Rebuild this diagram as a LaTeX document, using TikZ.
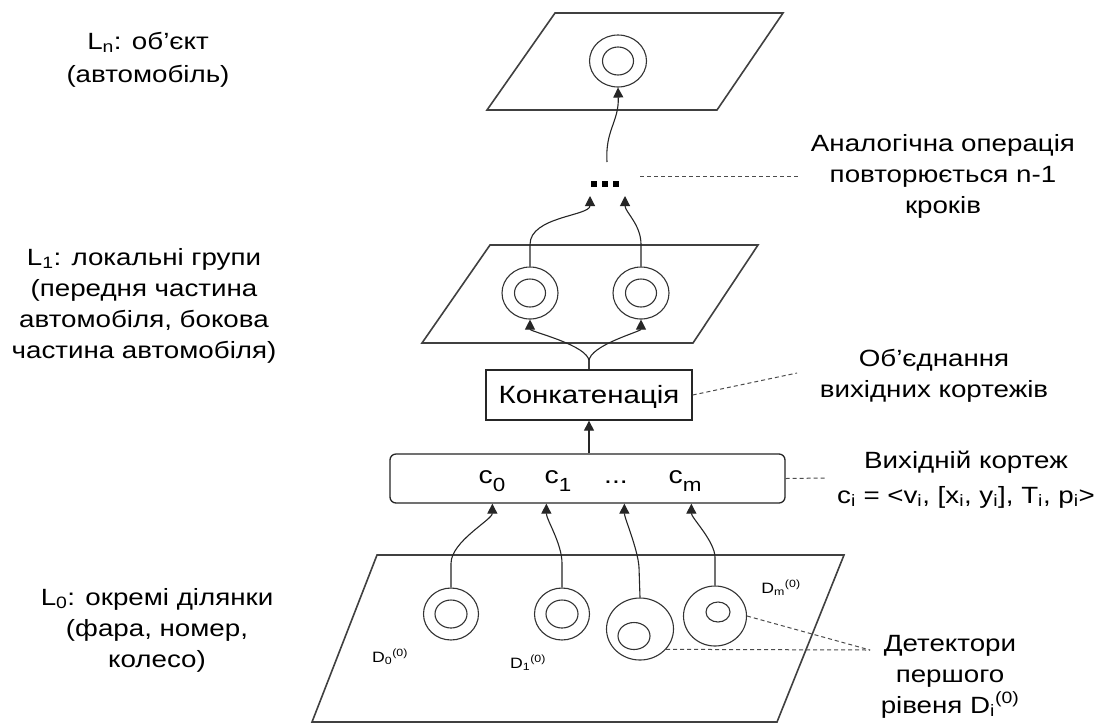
\documentclass[tikz,border=0pt]{standalone}
\usepackage{fontspec}
\setmainfont{Liberation Sans}[FakeStretch=1.18]
\usetikzlibrary{arrows.meta,shapes.geometric}
\tikzset{
  plane/.style={draw=black!75,line width=1.6pt,line join=miter},
  det/.style={ellipse,draw=black!80,line width=1.1pt,minimum width=56pt,minimum height=52pt,inner sep=0pt},
  detin/.style={ellipse,draw=black!80,line width=1.1pt,minimum width=31pt,minimum height=28pt,inner sep=0pt},
  conn/.style={draw=black!85,line width=1.1pt,-{Triangle[length=10pt,width=10pt]}},
  lead/.style={draw=black!70,line width=1pt,dash pattern=on 4pt off 3pt},
  lbl/.style={font=\fontsize{23.5}{31}\selectfont,align=center,inner sep=0pt,anchor=base},
  dlbl/.style={font=\fontsize{15}{18}\selectfont,inner sep=0pt,anchor=base},
  clbl/.style={font=\fontsize{24}{28}\selectfont,inner sep=0pt,anchor=base},
  boxn/.style={draw=black!85,line width=1.3pt,inner sep=0pt}
}
\newcommand{\csub}[1]{\raisebox{-8pt}{\fontsize{19}{19}\selectfont #1}}
\newcommand{\dsubsup}[2]{\textsubscript{#1}\textsuperscript{#2}}
\begin{document}
\begin{tikzpicture}[x=1pt,y=-1pt]
\useasboundingbox (0,0) rectangle (1107,724);
\fill[white] (0,0) rectangle (1107,724);

% planes
\draw[plane] (555,13) -- (783,13) -- (717,110) -- (487,110) -- cycle;
\draw[plane] (490,245) -- (758,245) -- (693,343) -- (422,343) -- cycle;
\draw[plane] (377,555) -- (844,555) -- (777,722) -- (312,722) -- cycle;

% Ln detector
\node[det,minimum width=57pt] (ln) at (618,61) {};
\node[detin] (lni) at (618,61) {};

% L1 detectors
\node[det] (la) at (530,293) {};
\node[detin] (lai) at (530,293) {};
\node[det] (lb) at (641,293) {};
\node[detin] (lbi) at (641,293) {};

% L0 detectors
\node[det,minimum width=55pt] (d0) at (451,614) {};
\node[detin,minimum width=32pt] (d0i) at (451,614) {};
\node[det,minimum width=55pt] (d1) at (562,614) {};
\node[detin,minimum width=32pt] (d1i) at (562,614) {};
\node[det,minimum width=67pt,minimum height=62pt] (d2) at (640,629) {};
\node[detin,minimum width=32pt,minimum height=27pt] (d2i) at (634,636) {};
\node[det,minimum width=63pt,minimum height=60pt] (d3) at (715,616) {};
\node[detin,minimum width=24pt,minimum height=20pt] (d3i) at (718,612) {};

% dots
\node[inner sep=0pt] (dots) at (605,184) {\rule{6pt}{6pt}\hspace{5pt}\rule{6pt}{6pt}\hspace{5pt}\rule{6pt}{6pt}};
\coordinate (da) at (590,196);
\coordinate (db) at (625,196);
\coordinate (dtop) at (607,162);

% boxes
\node[boxn,minimum width=206pt,minimum height=50pt] (concat) at (589,395) {};
\node[font=\fontsize{25}{28}\selectfont,inner sep=0pt] (concatt) at (589,397) {Конкатенація};
\node[boxn,rounded corners=6pt,minimum width=395pt,minimum height=49pt] (cbox) at (587.5,478.5) {};
\node[clbl] (c0) at (492,483) {c\csub{0}};
\node[clbl] (c1) at (558,483) {c\csub{1}};
\node[clbl] (cd) at (616,483) {...};
\node[clbl] (cm) at (685,483) {c\csub{m}};

\path (cbox.south west) ++(103,0) coordinate (in0)
      (cbox.south west) ++(157,0) coordinate (in1)
      (cbox.south west) ++(235,0) coordinate (in2)
      (cbox.south west) ++(302,0) coordinate (in3);

% connectors L0 -> cbox
\draw[conn] (d0.north) -- ++(0,-24) .. controls +(0,-22) and +(0,16) .. (in0);
\draw[conn] (d1.north) -- ++(0,-24) .. controls +(0,-20) and +(0,16) .. (in1);
\draw[conn] (d2.north) -- ++(-1,-30) .. controls +(-1,-18) and +(0,14) .. (in2);
\draw[conn] (d3.north) -- ++(0,-28) .. controls +(0,-16) and +(0,14) .. (in3);

% cbox -> concat
\draw[conn] (cbox.north -| concat) -- (concat.south);

% concat -> L1
\draw[conn] (concat.north) -- ++(0,-8) .. controls +(0,-16) and +(0,12) .. (la.south);
\draw[conn] (concat.north) -- ++(0,-8) .. controls +(0,-16) and +(0,12) .. (lb.south);

% L1 -> dots
\draw[conn] (la.north) -- ++(0,-22) .. controls +(0,-28) and +(0,20) .. (da);
\draw[conn] (lb.north) -- ++(0,-22) .. controls +(0,-20) and +(0,16) .. (db);

% dots -> Ln
\draw[conn] (dtop) .. controls (605,130) and (619,122) .. (ln.south);

% labels left (anchor base = last line)
\node[lbl] (lnl) at (148,82) {L\textsubscript{n}: об’єкт\\[2pt](автомобіль)};
\node[lbl] (l1l) at (144,358) {L\textsubscript{1}: локальні групи\\(передня частина\\автомобіля, бокова\\частина автомобіля)};
\node[lbl] (l0l) at (157,667) {L\textsubscript{0}: окремі ділянки\\(фара, номер,\\колесо)};

% labels right
\node[lbl] (ana) at (943,213) {Аналогічна операція\\повторюється n-1\\кроків};
\node[lbl] (obj) at (934,397) {Об’єднання\\вихідних кортежів};
\node[lbl] (vyh) at (966,503) {Вихідній кортеж\\[4pt]c\textsubscript{i} = <v\textsubscript{i}, [x\textsubscript{i}, y\textsubscript{i}], T\textsubscript{i}, p\textsubscript{i}>};
\node[lbl] (det) at (950,713) {Детектори\\першого\\рівеня D\dsubsup{i}{(0)}};

% D labels
\node[dlbl] (dl0) at (390,662) {D\dsubsup{0}{(0)}};
\node[dlbl] (dl1) at (528,668) {D\dsubsup{1}{(0)}};
\node[dlbl] (dlm) at (781,593) {D\dsubsup{m}{(0)}};

% dashed leaders
\coordinate (anaL) at (800,176);
\coordinate (dotsR) at (640,176);
\draw[lead] (dotsR) -- (anaL);
\coordinate (objL) at (797,373);
\draw[lead] (concat.east) -- (objL);
\coordinate (vyhL) at (827,478);
\draw[lead] (cbox.east) -- (vyhL);
\coordinate (detL) at (870,650);
\draw[lead] (d3.east) -- (detL);
\draw[lead] (d2.-38) -- (detL);
\end{tikzpicture}
\end{document}
